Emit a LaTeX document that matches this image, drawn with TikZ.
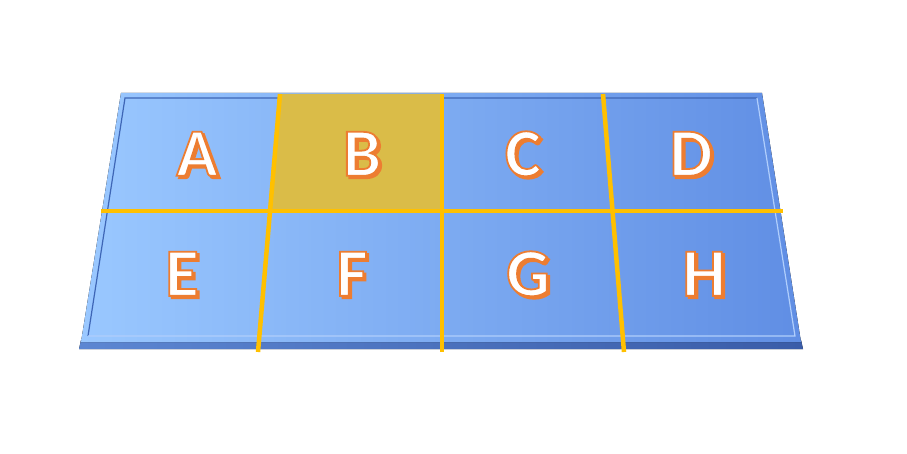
\documentclass[tikz,border=0pt]{standalone}
\usepackage{fontspec}
\setmainfont{Carlito}
\usepackage{xcolor}
\usepackage{tikz}
\usetikzlibrary{calc}

\definecolor{faceleft}{RGB}{154,200,255}
\definecolor{faceright}{RGB}{96,142,228}
\definecolor{slableft}{RGB}{92,134,210}
\definecolor{slabright}{RGB}{58,92,168}
\definecolor{bevdark}{RGB}{62,102,182}
\definecolor{bevlight}{RGB}{176,206,252}
\definecolor{gridgold}{RGB}{255,192,0}
\definecolor{cellgold}{RGB}{218,188,72}
\definecolor{markorange}{RGB}{237,125,49}

% white letter, orange outline (text render mode 2) and an orange shadow
\newcommand{\cellmark}[1]{%
  \makebox[0pt][l]{\hspace{2.4pt}\raisebox{-2.4pt}{%
    \special{pdf:literal direct q 0.929 0.490 0.192 RG 1.8 w 2 Tr}%
    \textcolor{markorange}{#1}%
    \special{pdf:literal direct Q}}}%
  \special{pdf:literal direct q 0.929 0.490 0.192 RG 1.8 w 2 Tr}%
  #1%
  \special{pdf:literal direct Q}}

\tikzstyle{gridline}=[draw=gridgold, line width=4.5pt]
\tikzstyle{cellname}=[text=white, inner sep=0pt,
                      font=\fontsize{68}{70}\selectfont\bfseries]

\begin{document}
\begin{tikzpicture}[x=1pt, y=-1pt]
  \useasboundingbox (0,0) rectangle (907,454);

  % ── slab and face ──────────────────────────────────────────────────────────
  \fill[left color=slableft, right color=slabright]
    (79,349) -- (803,349) -- (801,340) -- (81,340) -- cycle;
  \fill[left color=faceleft, right color=faceright]
    (121,93) -- (762,93) -- (801,342) -- (81,342) -- cycle;

  % ── bevel ──────────────────────────────────────────────────────────────────
  \draw[bevdark, line width=1.2pt]  (88,336) -- (125,98) -- (757,98);
  \draw[bevlight, line width=1.2pt] (757,98) -- (795,336) -- (88,336);

  % ── highlighted cell ───────────────────────────────────────────────────────
  \fill[cellgold] (280,94) -- (442,94) -- (442,211) -- (270,211) -- cycle;

  % ── grid ───────────────────────────────────────────────────────────────────
  \draw[gridline] (101,211) -- (783,211);
  \draw[gridline] (280,94)  -- (258,352);
  \draw[gridline] (442,94)  -- (442,352);
  \draw[gridline] (603,94)  -- (624,352);

  % ── cell names ─────────────────────────────────────────────────────────────
  \node[cellname] (cellA) at (197,155) {\cellmark{A}};
  \node[cellname] (cellB) at (362,155) {\cellmark{B}};
  \node[cellname] (cellC) at (523,155) {\cellmark{C}};
  \node[cellname] (cellD) at (691,155) {\cellmark{D}};
  \node[cellname] (cellE) at (182,275) {\cellmark{E}};
  \node[cellname] (cellF) at (352,275) {\cellmark{F}};
  \node[cellname] (cellG) at (528,275) {\cellmark{G}};
  \node[cellname] (cellH) at (704,275) {\cellmark{H}};

\end{tikzpicture}
\end{document}
